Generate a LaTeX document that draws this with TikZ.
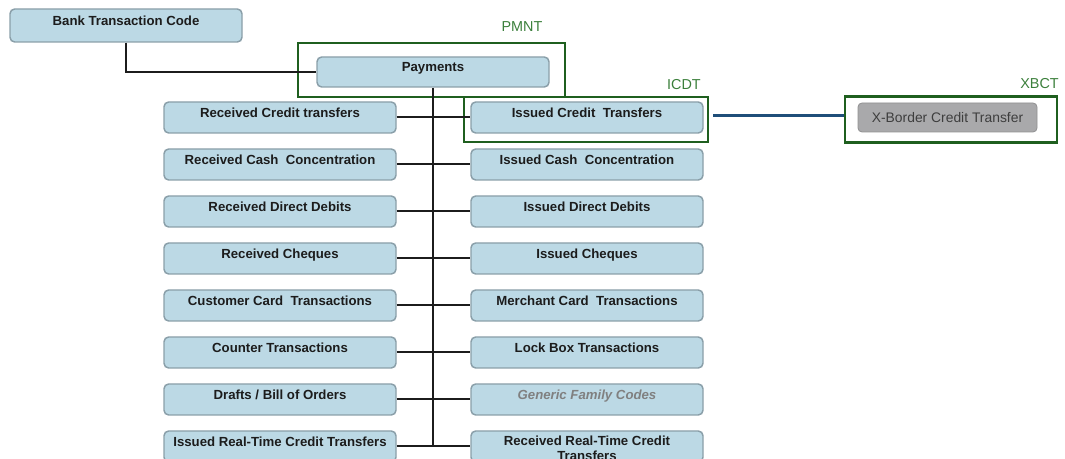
\documentclass[tikz,border=0pt]{standalone}
\usepackage{fontspec}
\setmainfont{Liberation Sans}
\definecolor{boxfill}{HTML}{BCD9E5}
\definecolor{boxline}{HTML}{8A9FA9}
\definecolor{txt}{HTML}{1C1C1C}
\definecolor{frame}{HTML}{1F5F1F}
\definecolor{codegreen}{HTML}{3B7F3B}
\definecolor{linkblue}{HTML}{1F4E79}
\definecolor{greybox}{HTML}{A9A9AB}
\begin{document}
\begin{tikzpicture}[x=0.75pt,y=-0.75pt,
  box/.style={draw=boxline, fill=boxfill, line width=1.1pt, rounded corners=3.5pt,
    minimum width=174pt, minimum height=23.25pt, inner sep=0pt},
  ttext/.style={font=\bfseries\fontsize{9.9}{11.25}\selectfont, text=txt,
    text height=7pt, text depth=2pt, inner sep=0pt, yshift=2.8pt},
  ttwo/.style={font=\bfseries\fontsize{9.9}{11.25}\selectfont, text=txt,
    align=center, inner sep=0pt, yshift=-1.2pt},
  family/.style={draw=frame, line width=1.9pt, fill=none, inner sep=0pt},
  code/.style={font=\fontsize{10.8}{12}\selectfont, text=codegreen, inner sep=0pt},
  link/.style={draw=txt, line width=1.5pt},
]
\path[use as bounding box, clip] (0,0) rectangle (1065,459);

% top level
\node[box, minimum height=24.75pt, label={[ttext]center:Bank Transaction Code}] (btc) at (126,25.5) {};
\node[family, minimum width=200.25pt, minimum height=40.5pt] (pmntf) at (431.5,70) {};
\node[box, minimum height=22.5pt, label={[ttext]center:Payments}] (pay) at (433,72) {};
\node[code] (pmnt) at (522,27) {PMNT};

% sub-families, left column
\node[box, label={[ttext]center:Received Credit transfers}]          (l1) at (280,117.5) {};
\node[box, label={[ttext]center:Received Cash\ \ Concentration}]     (l2) at (280,164.5) {};
\node[box, label={[ttext]center:Received Direct Debits}]             (l3) at (280,211.5) {};
\node[box, label={[ttext]center:Received Cheques}]                   (l4) at (280,258.5) {};
\node[box, label={[ttext]center:Customer Card\ \ Transactions}]      (l5) at (280,305.5) {};
\node[box, label={[ttext]center:Counter Transactions}]               (l6) at (280,352.5) {};
\node[box, label={[ttext]center:Drafts / Bill of Orders}]            (l7) at (280,399.5) {};
\node[box, label={[ttext]center:Issued Real-Time Credit Transfers}]  (l8) at (280,446.5) {};

% sub-families, right column
\node[family, minimum width=183pt, minimum height=33.75pt] (icdtf) at (586,119.5) {};
\node[code, anchor=east] (icdt) at (701,85) {ICDT};
\node[box, label={[ttext]center:Issued Credit\ \ Transfers}]         (r1) at (587,117.5) {};
\node[box, label={[ttext]center:Issued Cash\ \ Concentration}]       (r2) at (587,164.5) {};
\node[box, label={[ttext]center:Issued Direct Debits}]               (r3) at (587,211.5) {};
\node[box, label={[ttext]center:Issued Cheques}]                     (r4) at (587,258.5) {};
\node[box, label={[ttext]center:Merchant Card\ \ Transactions}]      (r5) at (587,305.5) {};
\node[box, label={[ttext]center:Lock Box Transactions}]              (r6) at (587,352.5) {};
\node[box, label={[ttext, text=gray, font=\bfseries\itshape\fontsize{9.9}{11.25}\selectfont]center:Generic Family Codes}] (r7) at (587,399.5) {};
\node[box, label={[ttwo]center:Received Real-Time Credit\\Transfers}] (r8) at (587,446.5) {};

% sub-family code
\node[family, minimum width=159pt, minimum height=34.5pt] (xbctf) at (951,119.5) {};
\node[code, anchor=east] (xbct) at (1059,84) {XBCT};
\node[fill=greybox, draw=greybox!85!black, line width=0.6pt, rounded corners=3pt,
  minimum width=134.25pt, minimum height=21.75pt, inner sep=0pt,
  font=\fontsize{10.4}{12}\selectfont, text=txt!85] (xb) at (947.5,117.5) {X-Border Credit Transfer};

% connectors
\draw[link] (btc.south) |- (pay.west);
\draw[link] (pay.south) -- (pay.south |- l8.east);
\foreach \k in {1,...,8} { \draw[link] (l\k.east) -- (r\k.west); }
\draw[linkblue, line width=2.6pt] ([xshift=3pt,yshift=3pt]icdtf.east) -- ([yshift=3pt]icdtf.east -| xbctf.west);
\end{tikzpicture}
\end{document}
